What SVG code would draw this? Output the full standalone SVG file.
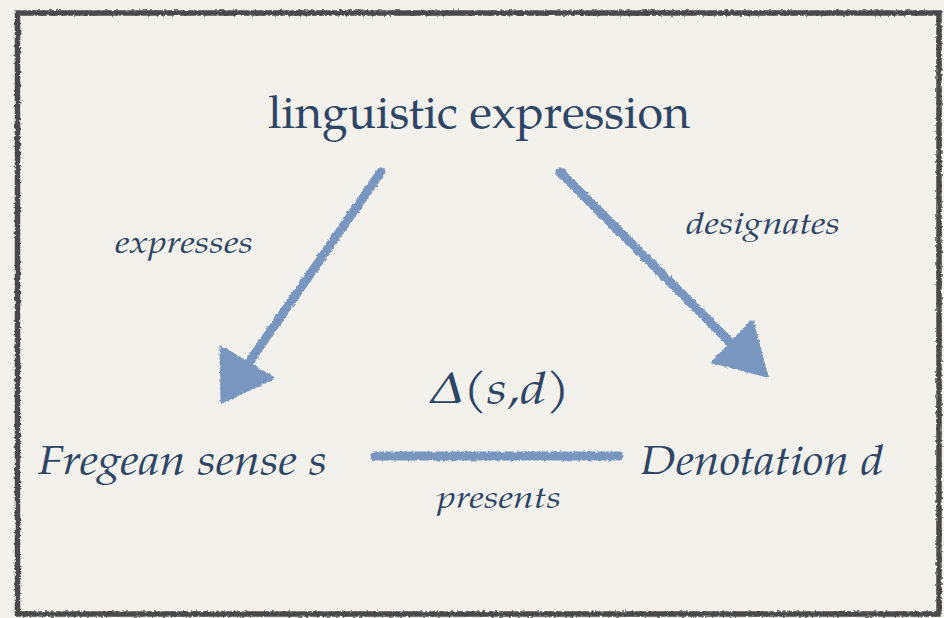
<svg xmlns="http://www.w3.org/2000/svg" width="944" height="618" viewBox="0 0 944 618">
<defs>
<filter id="rough" x="-10%" y="-10%" width="120%" height="120%">
<feTurbulence type="fractalNoise" baseFrequency="0.35" numOctaves="2" seed="3" result="n"/>
<feDisplacementMap in="SourceGraphic" in2="n" scale="3.5" xChannelSelector="R" yChannelSelector="G"/>
</filter>
<style>
.bg{fill:#f3f1ec}
.frame{fill:none;stroke:#4a4a4a;stroke-width:5.5}
.t{fill:#2e4566;font-family:"Palatino Linotype","TeX Gyre Pagella","Liberation Serif","DejaVu Serif",serif}
.i{font-style:italic}
.shaft{stroke:#7896c0;stroke-width:9;stroke-linecap:round;fill:none}
.head{fill:#7896c0;stroke:#7896c0;stroke-width:3;stroke-linejoin:round}
</style>
</defs>
<rect class="bg" x="0" y="0" width="944" height="618"/>
<rect class="frame" x="17.5" y="13" width="921.5" height="601" filter="url(#rough)"/>

<g id="linguistic-expression">
<text class="t" x="479" y="128" font-size="46" text-anchor="middle" textLength="422" lengthAdjust="spacingAndGlyphs">linguistic expression</text>
</g>
<g id="fregean-sense">
<text class="t i" x="38" y="474" font-size="41" textLength="289" lengthAdjust="spacingAndGlyphs">Fregean sense s</text>
</g>
<g id="denotation">
<text class="t i" x="640" y="474" font-size="41" textLength="244" lengthAdjust="spacingAndGlyphs">Denotation d</text>
</g>
<g id="delta">
<text class="t i" x="431" y="403" font-size="44" textLength="139" lengthAdjust="spacingAndGlyphs">Δ(s,d)</text>
</g>

<g id="connectors" filter="url(#rough)">
<g id="expresses">
<line class="shaft" x1="381" y1="172" x2="245" y2="368"/>
<polygon class="head" points="221,347 222,402 273,378"/>
</g>
<g id="designates">
<line class="shaft" x1="560" y1="172" x2="738" y2="350"/>
<polygon class="head" points="752,321 713,362 767,376"/>
</g>
<g id="presents">
<line class="shaft" x1="375" y1="456" x2="619" y2="456" stroke-width="7.5" stroke-linecap="butt"/>
</g>
</g>

<g id="labels">
<text class="t i" x="115" y="253" font-size="30" textLength="138" lengthAdjust="spacingAndGlyphs">expresses</text>
<text class="t i" x="686" y="234" font-size="30" textLength="154" lengthAdjust="spacingAndGlyphs">designates</text>
<text class="t i" x="437" y="508" font-size="30" textLength="124" lengthAdjust="spacingAndGlyphs">presents</text>
</g>
</svg>
